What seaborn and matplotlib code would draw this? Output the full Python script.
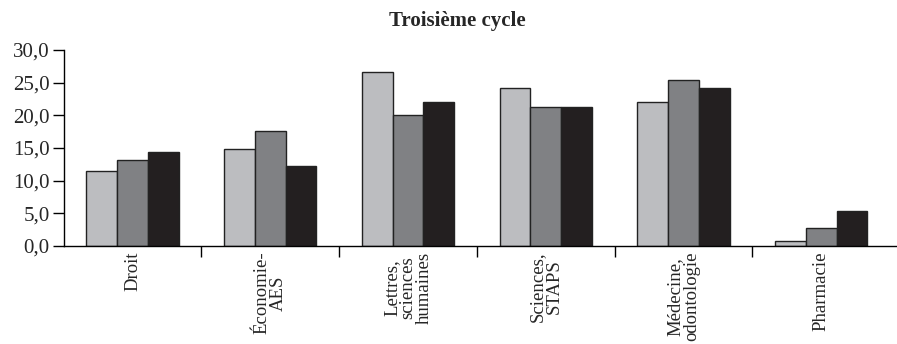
import matplotlib
matplotlib.use("Agg")
import matplotlib.pyplot as plt
import matplotlib.ticker as mticker
import seaborn as sns
import pandas as pd

categories = ["Droit", "Économie-\nAES", "Lettres,\nsciences\nhumaines",
              "Sciences,\nSTAPS", "Médecine,\nodontologie", "Pharmacie"]
series_names = ["Série 1", "Série 2", "Série 3"]
serie1 = [11.5, 14.8, 26.6, 24.2, 22.1, 0.8]
serie2 = [13.2, 17.6, 20.1, 21.3, 25.4, 2.8]
serie3 = [14.4, 12.3, 22.1, 21.3, 24.2, 5.4]
colors = ["#bcbdc0", "#808184", "#231f20"]
yticks = [0, 5, 10, 15, 20, 25, 30]

rows = []
for name, vals in zip(series_names, [serie1, serie2, serie3]):
    for c, v in zip(categories, vals):
        rows.append({"cat": c, "serie": name, "val": v})
df = pd.DataFrame(rows)

sns.set_theme(style="white")
plt.rcParams["font.family"] = ["Liberation Serif", "DejaVu Serif"]

fig = plt.figure(figsize=(8.97, 3.44), dpi=100)
ax = fig.add_axes([0.071, 0.285, 0.929, 0.57])

sns.barplot(data=df, x="cat", y="val", hue="serie", palette=colors,
            order=categories, hue_order=series_names, width=0.67,
            edgecolor="#222222", linewidth=1.0, saturation=1, legend=False, ax=ax)

ax.set_ylim(0, 30)
ax.set_xlim(-0.5, 5.55)
ax.set_yticks(yticks)
ax.yaxis.set_major_formatter(mticker.FuncFormatter(lambda v, p: f"{v:.1f}".replace(".", ",")))
ax.set_xlabel("")
ax.set_ylabel("")

for s in ["top", "right"]:
    ax.spines[s].set_visible(False)
for s in ["left", "bottom"]:
    ax.spines[s].set_color("black")
    ax.spines[s].set_linewidth(1.0)

ax.set_xticks(range(len(categories)))
ax.set_xticklabels(categories, rotation=90, ha="center", va="top",
                   fontsize=13.5, linespacing=0.95, multialignment="center")
ax.tick_params(axis="x", length=0, pad=4)
ax.set_xticks([i - 0.5 for i in range(1, len(categories))], minor=True)
ax.tick_params(axis="x", which="minor", length=8, width=1, color="black", direction="out", bottom=True)
ax.tick_params(axis="y", length=8, width=1, color="black", direction="out", left=True,
               labelsize=15, pad=2)

fig.text(0.51, 0.94, "Troisième cycle", fontsize=15, fontweight="bold", ha="center", va="center")

fig.savefig("out.png", dpi=100)
